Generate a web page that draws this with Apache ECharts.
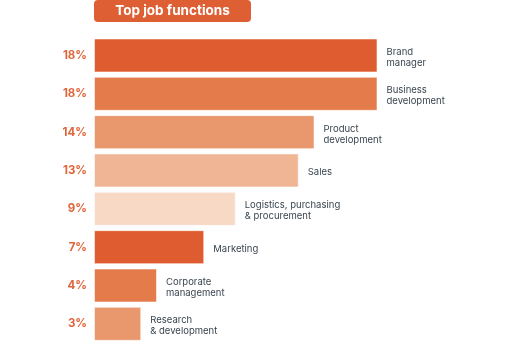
<!DOCTYPE html>
<html>
<head>
<meta charset="utf-8">
<script src="https://cdn.jsdelivr.net/npm/echarts@6/dist/echarts.min.js"></script>
<style>html,body{margin:0;padding:0;background:#fff}#c{width:512px;height:343px}</style>
</head>
<body>
<div id="c"></div>
<script>
const categories = ["Brand\nmanager","Business\ndevelopment","Product\ndevelopment","Sales","Logistics, purchasing\n& procurement","Marketing","Corporate\nmanagement","Research\n& development"];
const values = [18, 18, 14, 13, 9, 7, 4, 3];
const barColors = ["#DE5C2F","#E47B4B","#E9976D","#F0B594","#F7D9C6","#DE5C2F","#E47B4B","#E9976D"];
const titleText = "Top job functions";

const chart = echarts.init(document.getElementById('c'), null, {renderer:'canvas'});
chart.setOption({
  animation:false,
  grid:{left:94, top:36.3, width:283.5, height:308, containLabel:false},
  xAxis:{type:'value', min:0, max:18, show:false},
  yAxis:{type:'category', inverse:true, data:categories,
    axisLine:{show:false}, axisTick:{show:false},
    axisLabel:{margin:7, color:'#E0653A', fontWeight:'bold', fontSize:11.5, fontFamily:'Inter',
      formatter:(v, i)=> values[i] + '%'}},
  series:[{
    type:'bar', barWidth:34,
    data: values.map((v,i)=>({value:v, itemStyle:{color:barColors[i]}})),
    itemStyle:{borderColor:'rgba(255,255,255,0.55)', borderWidth:1},
    label:{show:true, position:'right', distance:9, offset:[0,2], color:'#3A4550', fontSize:9.5, lineHeight:11, fontFamily:'Inter',
      formatter:(p)=> categories[p.dataIndex]}
  }],
  graphic:[
    {type:'rect', left:94, top:0, shape:{width:157, height:22, r:4}, style:{fill:'#DE5F34'}},
    {type:'text', x:172.5, y:11, style:{text:titleText, fill:'#fff', font:'bold 13.5px Inter', align:'center', verticalAlign:'middle'}}
  ]
});
</script>
</body>
</html>
